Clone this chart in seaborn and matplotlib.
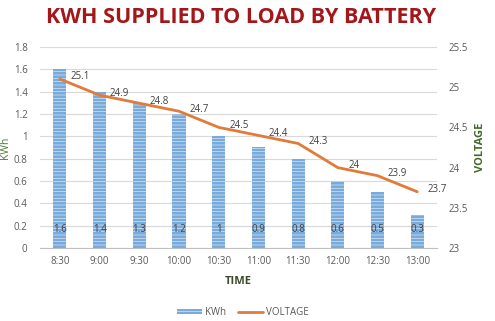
import matplotlib
matplotlib.use("Agg")
import matplotlib.pyplot as plt
import seaborn as sns
import pandas as pd
from matplotlib.patches import Patch
from matplotlib.lines import Line2D

times = ["8:30", "9:00", "9:30", "10:00", "10:30", "11:00", "11:30", "12:00", "12:30", "13:00"]
kwh = [1.6, 1.4, 1.3, 1.2, 1.0, 0.9, 0.8, 0.6, 0.5, 0.3]
voltage = [25.1, 24.9, 24.8, 24.7, 24.5, 24.4, 24.3, 24.0, 23.9, 23.7]
kwh_labels = ["1.6", "1.4", "1.3", "1.2", "1", "0.9", "0.8", "0.6", "0.5", "0.3"]
volt_labels = ["25.1", "24.9", "24.8", "24.7", "24.5", "24.4", "24.3", "24", "23.9", "23.7"]
left_ticks = [0, 0.2, 0.4, 0.6, 0.8, 1, 1.2, 1.4, 1.6, 1.8]
left_tick_labels = ["0", "0.2", "0.4", "0.6", "0.8", "1", "1.2", "1.4", "1.6", "1.8"]
right_ticks = [23, 23.5, 24, 24.5, 25, 25.5]
right_tick_labels = ["23", "23.5", "24", "24.5", "25", "25.5"]

df = pd.DataFrame({"TIME": times, "KWh": kwh, "VOLTAGE": voltage, "pos": range(len(times))})

sns.set_style("white")
plt.rcParams["font.family"] = ["Open Sans", "DejaVu Sans"]
plt.rcParams["hatch.color"] = "white"
plt.rcParams["hatch.linewidth"] = 0.35

fig = plt.figure(figsize=(4.95, 3.21), dpi=100)
ax = fig.add_axes([0.081, 0.227, 0.802, 0.627])

bar_color = "#78AADB"
line_color = "#E07B39"
tick_color = "#595959"

sns.barplot(data=df, x="TIME", y="KWh", ax=ax, color=bar_color, width=0.33,
            saturation=1, edgecolor="white", linewidth=0, hatch="-----")
ax.set_ylim(0, 1.8)
ax.set_xlim(-0.5, len(times) - 0.5)
ax.set_yticks(left_ticks)
ax.set_yticklabels(left_tick_labels)
ax.yaxis.grid(True, color="#D9D9D9", linewidth=0.8)
ax.set_axisbelow(True)
for s in ["top", "right", "left"]:
    ax.spines[s].set_visible(False)
ax.spines["bottom"].set_color("#BFBFBF")
ax.tick_params(axis="both", length=0, labelsize=7, colors=tick_color, pad=6)
ax.tick_params(axis="y", pad=9)
ax.set_xlabel("TIME", fontsize=8, fontweight="bold", color="#3E4A2E", labelpad=6)
ax.set_ylabel("KWh", fontsize=7.5, color="#4E7A2E", labelpad=2)

for i, t in enumerate(kwh_labels):
    ax.text(i, 0.17, t, ha="center", va="center", fontsize=7, color="#404040")

ax2 = ax.twinx()
sns.lineplot(data=df, x="pos", y="VOLTAGE", ax=ax2, color=line_color, linewidth=2, legend=False)
ax2.set_ylim(23, 25.5)
ax2.set_yticks(right_ticks)
ax2.set_yticklabels(right_tick_labels)
for s in ["top", "right", "left", "bottom"]:
    ax2.spines[s].set_visible(False)
ax2.tick_params(axis="y", length=0, labelsize=7, colors=tick_color, pad=8)
ax2.set_ylabel("VOLTAGE", fontsize=8, fontweight="bold", color="#3F6B2A", labelpad=5)
ax2.set_xlabel("")
for i, t in enumerate(volt_labels):
    ax2.annotate(t, (i, voltage[i]), xytext=(7.5, 1.5), textcoords="offset points",
                 ha="left", va="center", fontsize=7, color="#404040")

fig.text(0.487, 0.944, "KWH SUPPLIED TO LOAD BY BATTERY", ha="center", va="center",
         fontsize=15.5, fontweight="bold", color="#A3161A")

handles = [Patch(facecolor=bar_color, edgecolor="white", linewidth=0, hatch="-----"),
           Line2D([0], [0], color=line_color, linewidth=2)]
fig.legend(handles, ["KWh", "VOLTAGE"], loc="center", bbox_to_anchor=(0.49, 0.027),
           ncol=2, frameon=False, fontsize=7, handlelength=2.6, handleheight=0.5,
           columnspacing=1.2, handletextpad=0.3, labelcolor="#595959")

fig.savefig("out.png", dpi=100)
